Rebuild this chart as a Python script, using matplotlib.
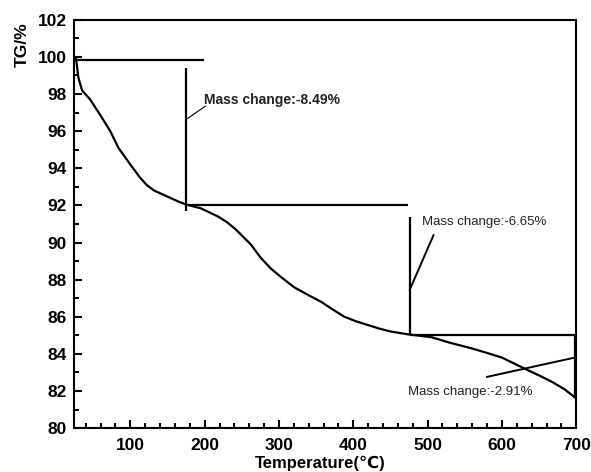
import matplotlib
matplotlib.use("Agg")
import matplotlib.pyplot as plt
from matplotlib.ticker import MultipleLocator

plt.rcParams["font.family"] = ["Liberation Sans", "DejaVu Sans"]

# TG curve
temp = [25, 27, 30, 35, 46, 59, 73, 84, 100, 113, 122, 132, 143, 154, 165, 175,
        195, 218, 230, 242, 252, 262, 275, 289, 304, 320, 338, 357, 372, 388,
        404, 420, 436, 451, 474, 505, 530, 559, 580, 600, 618, 636, 652, 667,
        684, 700]
tg = [100.0, 99.9, 98.9, 98.2, 97.7, 96.9, 96.0, 95.1, 94.2, 93.5, 93.1, 92.8,
      92.6, 92.4, 92.2, 92.05, 91.84, 91.4, 91.1, 90.7, 90.3, 89.9, 89.2, 88.6,
      88.1, 87.6, 87.2, 86.8, 86.4, 86.0, 85.75, 85.55, 85.35, 85.2, 85.05,
      84.9, 84.6, 84.3, 84.05, 83.8, 83.45, 83.1, 82.8, 82.5, 82.1, 81.6]

# step construction lines (x0, x1, y0, y1)
steps = [
    (25, 199, 99.85, 99.85),
    (175, 175, 91.7, 99.4),
    (175, 474, 92.0, 92.0),
    (476, 476, 85.0, 91.35),
    (476, 700, 85.0, 85.0),
    (698, 698, 81.6, 85.0),
]

labels = ["Mass change:-8.49%", "Mass change:-6.65%", "Mass change:-2.91%"]
label_pos = [(199, 97.7), (492, 91.1), (474, 81.95)]
leaders = [
    ((175.7, 96.65), (201, 97.35)),
    ((476, 87.46), (508, 90.4)),
    ((580, 82.76), (698, 83.8)),
]
leader_widths = [0.8, 1.4, 1.4]
label_weights = ["bold", "normal", "normal"]
label_sizes = [10, 9.5, 9.5]

fig = plt.figure(figsize=(5.91, 4.72), dpi=100)
ax = fig.add_axes([0.125, 0.093, 0.85, 0.865])

ax.plot(temp, tg, color="black", lw=1.6)

for x0, x1, y0, y1 in steps:
    ax.plot([x0, x1], [y0, y1], color="black", lw=1.6, solid_capstyle="butt")

for (p0, p1), w in zip(leaders, leader_widths):
    ax.plot([p0[0], p1[0]], [p0[1], p1[1]], color="black", lw=w)

for txt, (x, y), wt, sz in zip(labels, label_pos, label_weights, label_sizes):
    ax.text(x, y, txt, fontsize=sz, fontweight=wt, color="#222222",
            ha="left", va="center")

ax.set_xlim(24, 700)
ax.set_ylim(80, 102)
ax.xaxis.set_major_locator(MultipleLocator(100))
ax.xaxis.set_minor_locator(MultipleLocator(20))
ax.yaxis.set_major_locator(MultipleLocator(2))
ax.yaxis.set_minor_locator(MultipleLocator(1))

ax.tick_params(which="both", direction="in", width=1.5, top=False, right=False)
ax.tick_params(which="major", length=6)
ax.tick_params(which="minor", length=3.5)
ax.tick_params(axis="x", which="major", pad=7, labelsize=12.5)
ax.tick_params(axis="y", which="major", pad=5, labelsize=12.5)
for lab in ax.get_xticklabels() + ax.get_yticklabels():
    lab.set_fontweight("bold")

for sp in ax.spines.values():
    sp.set_linewidth(1.5)

fig.text(0.542, 0.002, "Temperature(\u2103)", fontsize=12, fontweight="bold",
         ha="center", va="bottom")
fig.text(0.037, 0.905, "TG/%", rotation=90, fontsize=12.5, fontweight="bold",
         ha="center", va="center")

fig.savefig("out.png", dpi=100)
